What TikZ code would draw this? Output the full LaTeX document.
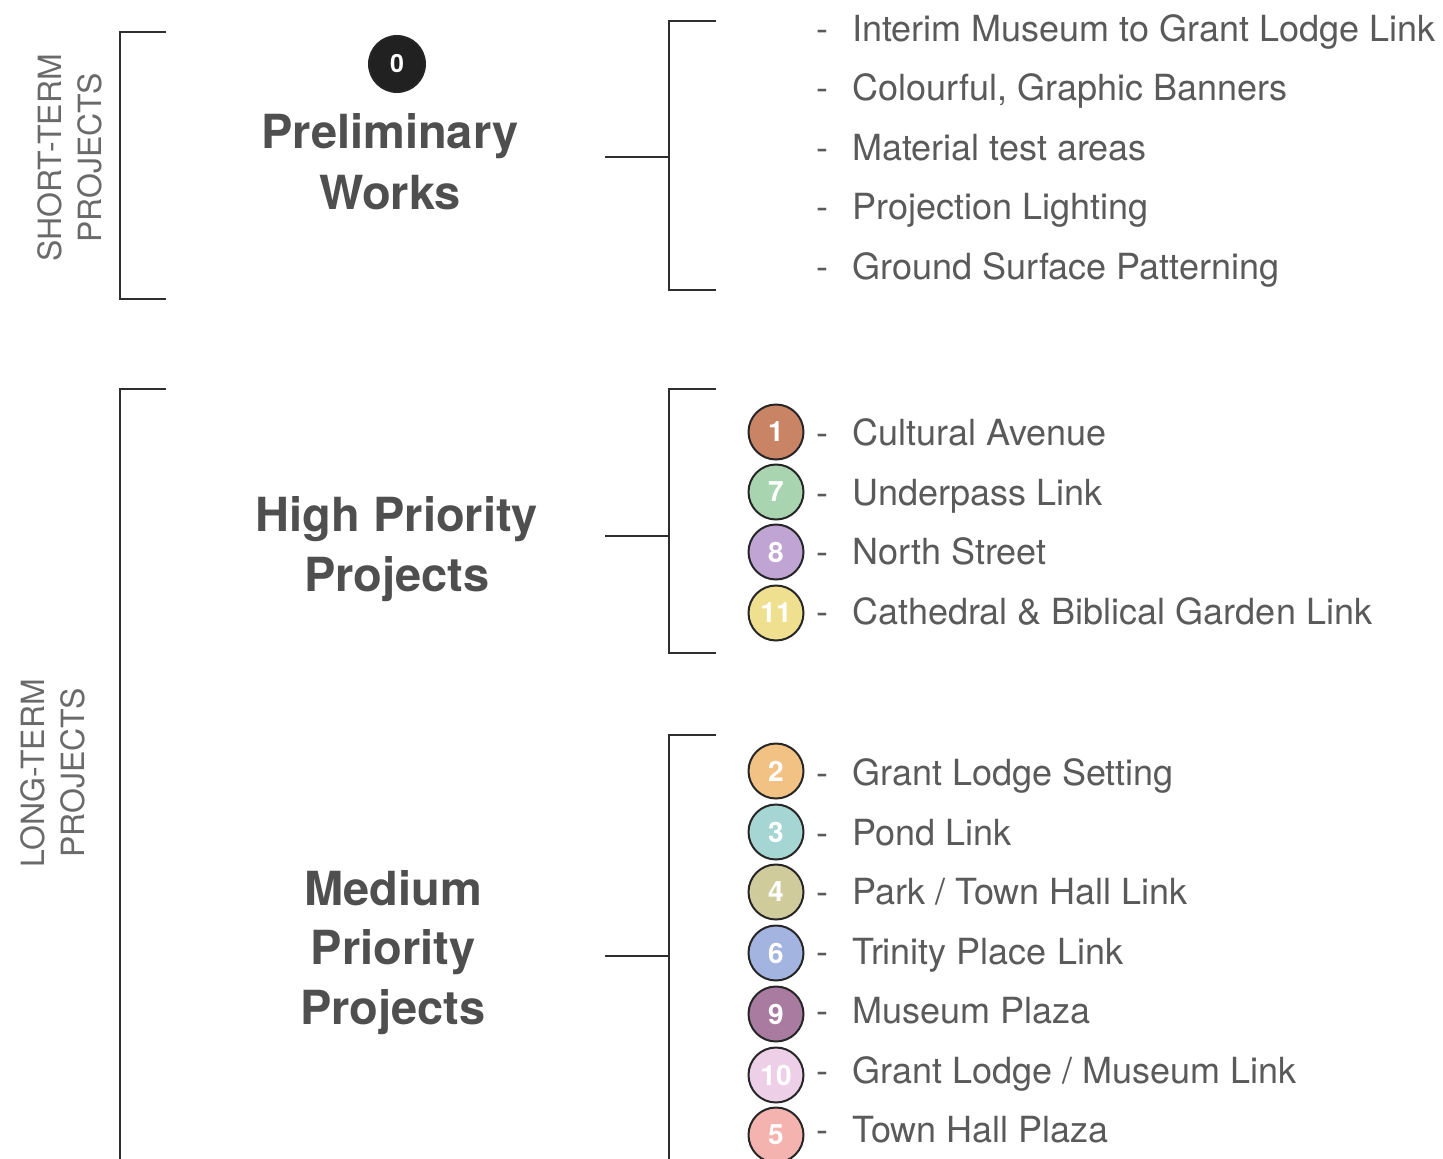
\documentclass[tikz,border=0pt]{standalone}
\usepackage{fontspec}
\setmainfont{TeX Gyre Heros}
\definecolor{linec}{HTML}{2E2E2E}
\definecolor{textc}{HTML}{5A5A5A}
\definecolor{titlec}{HTML}{4F4F4F}
\definecolor{sidec}{HTML}{6A6A6A}
\definecolor{c1}{HTML}{C98466}
\definecolor{c7}{HTML}{A8D5B0}
\definecolor{c8}{HTML}{C0A4D4}
\definecolor{c11}{HTML}{EEE08F}
\definecolor{c2}{HTML}{F2C184}
\definecolor{c3}{HTML}{A5D6D4}
\definecolor{c4}{HTML}{CFCB9A}
\definecolor{c6}{HTML}{A4B4E0}
\definecolor{c9}{HTML}{A97BA0}
\definecolor{c10}{HTML}{EDD0E8}
\definecolor{c5}{HTML}{F4B3AE}
\begin{document}
\begin{tikzpicture}[x=1pt,y=-1pt,
  brk/.style={draw=linec, line width=2.6pt},
  item/.style={anchor=base west, text=textc, inner sep=0pt, font=\fontsize{36}{40}\selectfont},
  dashm/.style={anchor=base, text=textc, inner sep=0pt, font=\fontsize{36}{40}\selectfont},
  title/.style={anchor=base, text=titlec, inner sep=0pt, font=\fontsize{47}{56}\selectfont\bfseries},
  num/.style={circle, draw=black!85, line width=2pt, minimum size=55pt, inner sep=0pt, text=white, font=\fontsize{28}{28}\selectfont\bfseries},
  side/.style={rotate=90, text=sidec, inner sep=0pt, align=center, font=\fontsize{32}{40}\selectfont}
]
\useasboundingbox (0,0) rectangle (1443,1159);

% side labels
\node[side] (stl) at (70,158) {SHORT-TERM\\PROJECTS};
\node[side] (ltl) at (53,773) {LONG-TERM\\PROJECTS};

% left brackets
\coordinate (sA) at (166,32); \coordinate (sB) at (166,299);
\draw[brk] (sA) -- (120,32) -- (120,299) -- (sB);
\coordinate (lA) at (166,389); \coordinate (lB) at (120,1159);
\draw[brk] (lA) -- (120,389) -- (lB);

% titles
\node[num, fill=black!87, minimum size=56pt, font=\fontsize{25}{25}\selectfont\bfseries] (n0) at (397,64) {0};
\node[title] (t1a) at (390,148) {Preliminary};
\node[title] (t1b) at (390,209) {Works};
\node[title] (t2a) at (397,531) {High Priority};
\node[title] (t2b) at (397,591) {Projects};
\node[title] (t3a) at (393,905) {Medium};
\node[title] (t3b) at (393,964) {Priority};
\node[title] (t3c) at (393,1024) {Projects};

% right brackets
\coordinate (p0) at (605,157);
\draw[brk] (716,21) -- (669,21) -- (669,290) -- (716,290);
\draw[brk] (p0) -- (669,157);
\coordinate (h0) at (605,536);
\draw[brk] (716,389) -- (669,389) -- (669,653) -- (716,653);
\draw[brk] (h0) -- (669,536);
\coordinate (m0) at (605,956);
\draw[brk] (716,735) -- (669,735) -- (669,1159);
\draw[brk] (m0) -- (669,956);

% preliminary items
\foreach \yy/\txt [count=\i] in {41/{Interim Museum to Grant Lodge Link}, 100/{Colourful, Graphic Banners}, 160/{Material test areas}, 219/{Projection Lighting}, 279/{Ground Surface Patterning}}{
  \node[dashm] (pd\i) at (822,\yy) {-};
  \node[item] (pi\i) at (852,\yy) {\txt};
}

% high priority items
\foreach \n/\cy/\ty/\txt [count=\i] in {1/432/445/{Cultural Avenue}, 7/492/505/{Underpass Link}, 8/552/564/{North Street}, 11/613/624/{Cathedral \& Biblical Garden Link}}{
  \node[num, fill=c\n] (hc\i) at (776,\cy) {\n};
  \node[dashm] (hd\i) at (822,\ty) {-};
  \node[item] (hi\i) at (852,\ty) {\txt};
}

% medium priority items
\foreach \n/\cy/\ty/\txt [count=\i] in {2/771/785/{Grant Lodge Setting}, 3/832/845/{Pond Link}, 4/892/904/{Park / Town Hall Link}, 6/953/964/{Trinity Place Link}, 9/1014/1023/{Museum Plaza}, 10/1075/1083/{Grant Lodge / Museum Link}, 5/1135/1142/{Town Hall Plaza}}{
  \node[num, fill=c\n] (mc\i) at (776,\cy) {\n};
  \node[dashm] (md\i) at (822,\ty) {-};
  \node[item] (mi\i) at (852,\ty) {\txt};
}
\end{tikzpicture}
\end{document}
